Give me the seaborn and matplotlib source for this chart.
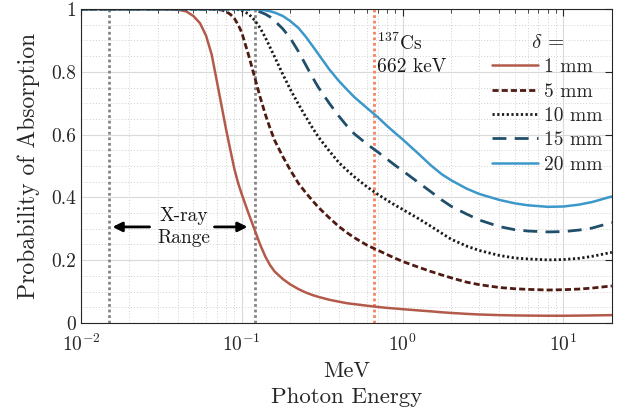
import numpy as np
import pandas as pd
import matplotlib
matplotlib.use("Agg")
import matplotlib.pyplot as plt
import matplotlib.ticker as mticker
import seaborn as sns

# ---------------- data ----------------
energy_mev = [0.01, 0.02, 0.03, 0.035, 0.04, 0.045, 0.05, 0.055, 0.06, 0.065, 0.07, 0.075,
              0.08, 0.085, 0.09, 0.095, 0.1, 0.11, 0.12, 0.13, 0.14, 0.15, 0.16, 0.18,
              0.2, 0.225, 0.25, 0.275, 0.3, 0.35, 0.4, 0.45, 0.5, 0.6, 0.7, 0.8, 0.9,
              1.0, 1.25, 1.5, 1.75, 2, 2.5, 3, 4, 5, 6, 8, 10, 12.5, 15, 20]

p_1mm = [1, 1, 1, 0.9995, 0.998, 0.993, 0.978, 0.955, 0.915, 0.855, 0.77, 0.69,
         0.615, 0.55, 0.49, 0.445, 0.41, 0.35, 0.298, 0.25, 0.212, 0.184, 0.164, 0.14,
         0.123, 0.108, 0.097, 0.089, 0.083, 0.074, 0.068, 0.063, 0.06, 0.055, 0.051, 0.048, 0.046,
         0.044, 0.040, 0.037, 0.034, 0.032, 0.029, 0.027, 0.025, 0.024, 0.0235, 0.023, 0.023, 0.0235, 0.024, 0.025]
p_5mm = [1, 1, 1, 1, 1, 1, 1, 1, 1, 0.9995, 0.999, 0.997,
         0.992, 0.983, 0.97, 0.95, 0.925, 0.855, 0.785, 0.72, 0.665, 0.62, 0.582, 0.53,
         0.488, 0.445, 0.415, 0.39, 0.368, 0.335, 0.308, 0.288, 0.272, 0.248, 0.232, 0.218, 0.206,
         0.196, 0.178, 0.164, 0.153, 0.144, 0.13, 0.122, 0.113, 0.109, 0.107, 0.105, 0.106, 0.108, 0.111, 0.118]
p_10mm = [1, 1, 1, 1, 1, 1, 1, 1, 1, 1, 1, 1,
          1, 1, 0.9995, 0.998, 0.995, 0.985, 0.965, 0.94, 0.91, 0.878, 0.848, 0.792,
          0.745, 0.697, 0.657, 0.622, 0.592, 0.548, 0.512, 0.487, 0.466, 0.434, 0.41, 0.391, 0.375,
          0.362, 0.333, 0.308, 0.286, 0.267, 0.245, 0.231, 0.215, 0.207, 0.204, 0.201, 0.202, 0.206, 0.212, 0.225]
p_15mm = [1, 1, 1, 1, 1, 1, 1, 1, 1, 1, 1, 1,
          1, 1, 1, 1, 1, 0.999, 0.996, 0.991, 0.984, 0.975, 0.963, 0.937,
          0.908, 0.865, 0.822, 0.783, 0.75, 0.70, 0.66, 0.628, 0.603, 0.57, 0.545, 0.522, 0.502,
          0.485, 0.448, 0.418, 0.392, 0.372, 0.347, 0.328, 0.307, 0.297, 0.293, 0.29, 0.291, 0.296, 0.302, 0.32]
p_20mm = [1, 1, 1, 1, 1, 1, 1, 1, 1, 1, 1, 1,
          1, 1, 1, 1, 1, 1, 0.999, 0.998, 0.996, 0.993, 0.989, 0.978,
          0.962, 0.94, 0.912, 0.883, 0.856, 0.808, 0.772, 0.744, 0.72, 0.685, 0.656, 0.628, 0.605,
          0.585, 0.54, 0.502, 0.474, 0.455, 0.428, 0.411, 0.392, 0.381, 0.375, 0.37, 0.371, 0.377, 0.385, 0.403]

series_labels = ["1 mm", "5 mm", "10 mm", "15 mm", "20 mm"]
series_values = [p_1mm, p_5mm, p_10mm, p_15mm, p_20mm]

xray_lo_mev = 0.015
xray_hi_mev = 0.12
cs137_mev = 0.662

x_ticks = [0.01, 0.1, 1, 10]
y_ticks = [0, 0.2, 0.4, 0.6, 0.8, 1]

# ---------------- styling ----------------
sns.set_style("white")
plt.rcParams["font.family"] = ["cmr10", "DejaVu Serif"]
plt.rcParams["mathtext.fontset"] = "cm"
plt.rcParams["axes.formatter.use_mathtext"] = True
plt.rcParams["axes.unicode_minus"] = True

colors = ["#b35a4a", "#4f1a12", "#1a1a1a", "#1f4f6a", "#3c98c9"]
styles = ["-", (0, (2.2, 1.1)), (0, (0.8, 0.9)), (0, (5, 3)), "-"]
widths = [1.8, 2.0, 2.0, 2.0, 1.8]

fig = plt.figure(figsize=(6.18, 4.13), dpi=100)
ax = fig.add_axes([0.131, 0.218, 0.859, 0.760])

for lab, vals, c, ls, lw in zip(series_labels, series_values, colors, styles, widths):
    sns.lineplot(x=energy_mev, y=vals, ax=ax, color=c, linestyle=ls, linewidth=lw, label=lab)

# reference vertical lines
ax.axvline(xray_lo_mev, color="#858585", linestyle=(0, (1, 1)), linewidth=2, zorder=1)
ax.axvline(xray_hi_mev, color="#858585", linestyle=(0, (1, 1)), linewidth=2, zorder=1)
ax.axvline(cs137_mev, color="#f4845f", linestyle=(0, (1, 1)), linewidth=2, zorder=1)

ax.set_xscale("log")
ax.set_xlim(0.01, 20)
ax.set_ylim(0, 1)
ax.set_xticks(x_ticks)
ax.xaxis.set_major_formatter(mticker.LogFormatterSciNotation())
ax.xaxis.set_minor_locator(mticker.LogLocator(base=10, subs=np.arange(2, 10)))
ax.xaxis.set_minor_formatter(mticker.NullFormatter())
ax.set_yticks(y_ticks)
ax.yaxis.set_major_formatter(mticker.FuncFormatter(lambda v, p: f"{v:g}"))
ax.yaxis.set_minor_locator(mticker.MultipleLocator(0.05))

ax.grid(which="major", color="#d9d9d9", linewidth=0.8, linestyle="-")
ax.grid(which="minor", color="#d0d0d0", linewidth=0.7, linestyle=(0, (1, 2)))
ax.set_axisbelow(True)

for s in ax.spines.values():
    s.set_visible(True)
    s.set_color("#262626")
    s.set_linewidth(0.8)
ax.tick_params(which="both", direction="in", top=True, right=True, colors="#262626",
               labelsize=14, labelcolor="#262626")
ax.tick_params(which="major", length=5, width=0.8)
ax.tick_params(which="minor", length=3, width=0.6)
ax.tick_params(axis="y", which="minor", length=0)
ax.tick_params(axis="x", pad=8)

ax.set_ylabel("Probability of Absorption", fontsize=17, color="#262626", labelpad=8)
ax.set_xlabel("")
ax.text(0.5, -0.172, "MeV", transform=ax.transAxes, ha="center", va="baseline",
        fontsize=16, color="#262626")
ax.text(0.5, -0.255, "Photon Energy", transform=ax.transAxes, ha="center", va="baseline",
        fontsize=16.5, color="#262626")

# annotations
ax.text(0.0438, 0.305, "X-ray\nRange", ha="center", va="center", fontsize=14,
        linespacing=1.3, color="#1a1a1a")
ax.annotate("", xy=(0.0151, 0.306), xytext=(0.0278, 0.306),
            arrowprops=dict(arrowstyle="-|>", color="k", lw=2, mutation_scale=14))
ax.annotate("", xy=(0.113, 0.306), xytext=(0.065, 0.306),
            arrowprops=dict(arrowstyle="-|>", color="k", lw=2, mutation_scale=14))
ax.text(0.69, 0.855, "$^{137}$Cs\n662 keV", ha="left", va="center", fontsize=14,
        linespacing=1.3, color="#1a1a1a")

leg = ax.legend(title="$\\delta$ =", loc="upper right", bbox_to_anchor=(1.005, 0.958),
                frameon=False, fontsize=14, title_fontsize=15, handlelength=2.4,
                handletextpad=0.3, labelspacing=0.33, borderaxespad=0.2)

fig.savefig("out.png", dpi=100)
